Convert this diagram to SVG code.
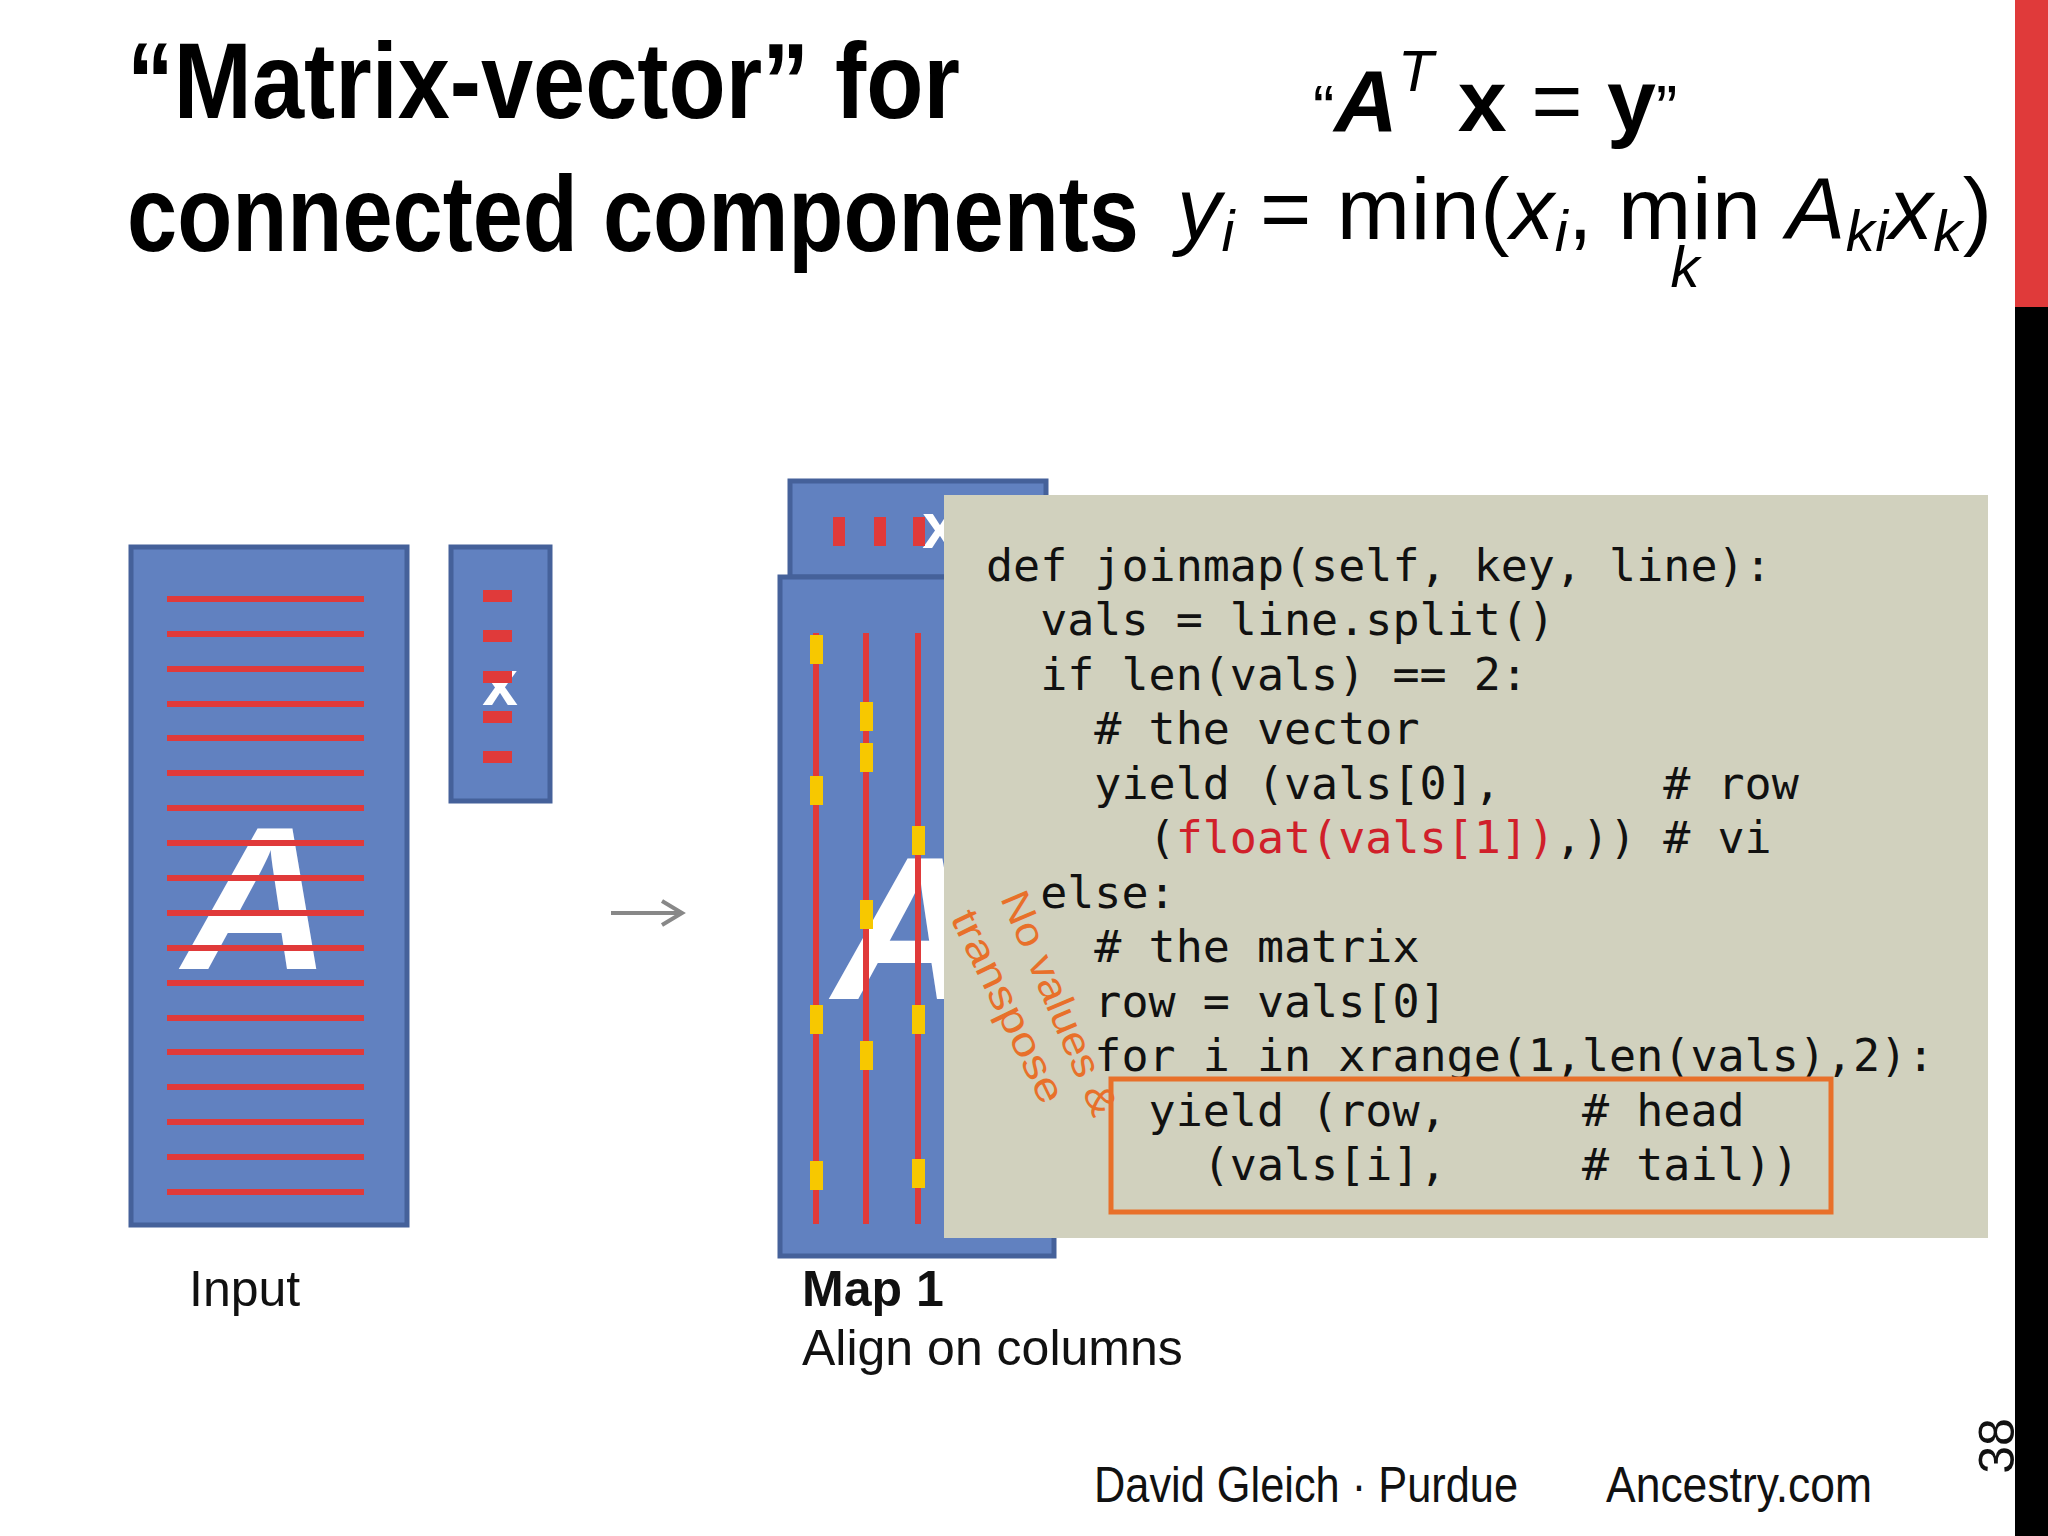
<svg xmlns="http://www.w3.org/2000/svg" width="2048" height="1536" viewBox="0 0 2048 1536">
<style>
.blk{fill:#6181c0;stroke:#45619a;stroke-width:5}
.rl{stroke:#e03a3a;stroke-width:6}
.yl{fill:#f7c800}
.code{font-family:"DejaVu Sans Mono",monospace;font-size:45px;fill:#111}
.lab{font-family:"Liberation Sans",Arial,sans-serif;font-size:50px;fill:#111}
.ttl{font-family:"Liberation Sans",Arial,sans-serif;font-weight:bold;font-size:108px;fill:#000}
.math{font-family:"Liberation Sans",Arial,sans-serif;fill:#000}
.or{font-family:"Liberation Sans",Arial,sans-serif;font-size:40px;fill:#e8702a}
</style>
<rect width="2048" height="1536" fill="#fff"/>
<rect x="2015" y="0" width="33" height="307" fill="#e03a3a"/>
<rect x="2015" y="307" width="33" height="1229" fill="#000"/>
<text transform="translate(2014,1446) rotate(-90)" text-anchor="middle" class="lab" font-size="64" fill="#555">38</text>
<text x="127" y="118" class="ttl" textLength="833" lengthAdjust="spacingAndGlyphs">“Matrix-vector” for</text>
<text x="127" y="251" class="ttl" textLength="1012" lengthAdjust="spacingAndGlyphs">connected components</text>
<text x="1313" y="131" class="math" font-size="88"><tspan font-size="64">“</tspan><tspan font-weight="bold" font-style="italic">A</tspan><tspan font-style="italic" dy="-40" font-size="58">T</tspan><tspan dy="40" font-weight="bold"> x</tspan> = <tspan font-weight="bold">y</tspan><tspan font-size="64">”</tspan></text>
<text x="1177" y="239" class="math" font-size="88" textLength="815"><tspan font-style="italic">y</tspan><tspan font-style="italic" font-size="58" dy="12">i</tspan><tspan dy="-12"> = min(</tspan><tspan font-style="italic">x</tspan><tspan font-style="italic" font-size="58" dy="12">i</tspan><tspan dy="-12">, min </tspan><tspan font-style="italic">A</tspan><tspan font-style="italic" font-size="58" dy="12">ki</tspan><tspan font-style="italic" dy="-12">x</tspan><tspan font-style="italic" font-size="58" dy="12">k</tspan><tspan dy="-12">)</tspan></text>
<text x="1685" y="287" class="math" font-size="58" font-style="italic" text-anchor="middle">k</text>
<g id="input">
<rect class="blk" x="131" y="547" width="276" height="678"/>
<text x="257" y="969" font-family="Liberation Sans,Arial,sans-serif" font-weight="bold" font-style="italic" font-size="205" fill="#fff" text-anchor="middle">A</text>
<g class="rl">
<line x1="167" x2="364" y1="599" y2="599"/><line x1="167" x2="364" y1="634" y2="634"/><line x1="167" x2="364" y1="669" y2="669"/><line x1="167" x2="364" y1="704" y2="704"/><line x1="167" x2="364" y1="738" y2="738"/><line x1="167" x2="364" y1="773" y2="773"/><line x1="167" x2="364" y1="808" y2="808"/><line x1="167" x2="364" y1="843" y2="843"/><line x1="167" x2="364" y1="878" y2="878"/><line x1="167" x2="364" y1="913" y2="913"/><line x1="167" x2="364" y1="948" y2="948"/><line x1="167" x2="364" y1="983" y2="983"/><line x1="167" x2="364" y1="1018" y2="1018"/><line x1="167" x2="364" y1="1052" y2="1052"/><line x1="167" x2="364" y1="1087" y2="1087"/><line x1="167" x2="364" y1="1122" y2="1122"/><line x1="167" x2="364" y1="1157" y2="1157"/><line x1="167" x2="364" y1="1192" y2="1192"/>
</g>
<text x="189" y="1306" class="lab">Input</text>
</g>
<g id="vecx">
<rect class="blk" x="451" y="547" width="99" height="254"/>
<text x="500" y="705" font-family="Liberation Sans,Arial,sans-serif" font-weight="bold" font-size="64" fill="#fff" text-anchor="middle">x</text>
<g fill="#e03a3a"><rect x="483" y="590" width="29" height="12"/><rect x="483" y="630" width="29" height="12"/><rect x="483" y="671" width="29" height="12"/><rect x="483" y="711" width="29" height="12"/><rect x="483" y="751" width="29" height="12"/></g>
</g>
<g id="connectors"><line x1="611" y1="913" x2="680" y2="913" stroke="#888" stroke-width="4"/><path d="M662 901 L682 913 L662 925" fill="none" stroke="#888" stroke-width="4"/></g>
<g id="map1">
<rect class="blk" x="790" y="481" width="256" height="96"/>
<text x="940" y="548" font-family="Liberation Sans,Arial,sans-serif" font-weight="bold" font-size="64" fill="#fff" text-anchor="middle">x</text>
<g fill="#e03a3a"><rect x="833" y="517" width="12" height="29"/><rect x="874" y="517" width="12" height="29"/><rect x="913" y="517" width="12" height="29"/></g>
<rect class="blk" x="780" y="577" width="274" height="679"/>
<text x="833" y="999" font-family="Liberation Sans,Arial,sans-serif" font-weight="bold" font-style="italic" font-size="205" fill="#fff">A</text>
<g class="rl"><line x1="816" x2="816" y1="633" y2="1224"/><line x1="866" x2="866" y1="633" y2="1224"/><line x1="918" x2="918" y1="633" y2="1224"/></g>
<g class="yl"><rect x="810" y="635" width="13" height="29"/><rect x="810" y="776" width="13" height="29"/><rect x="810" y="1005" width="13" height="29"/><rect x="810" y="1161" width="13" height="29"/>
<rect x="860" y="702" width="13" height="29"/><rect x="860" y="743" width="13" height="29"/><rect x="860" y="900" width="13" height="29"/><rect x="860" y="1041" width="13" height="29"/>
<rect x="912" y="826" width="13" height="29"/><rect x="912" y="1005" width="13" height="29"/><rect x="912" y="1159" width="13" height="29"/></g>
<text x="802" y="1306" class="lab" font-weight="bold">Map 1</text>
<text x="802" y="1365" class="lab">Align on columns</text>
</g>
<g id="code">
<rect x="944" y="495" width="1044" height="743" fill="#d1d1be"/>
<text class="code" xml:space="preserve"><tspan x="986" y="581">def joinmap(self, key, line):</tspan><tspan x="986" y="635">  vals = line.split()</tspan><tspan x="986" y="690">  if len(vals) == 2:</tspan><tspan x="986" y="744">    # the vector</tspan><tspan x="986" y="799">    yield (vals[0],      # row</tspan><tspan x="986" y="853">      (<tspan fill="#d0202a">float(vals[1])</tspan>,)) # vi</tspan><tspan x="986" y="908">  else:</tspan><tspan x="986" y="962">    # the matrix</tspan><tspan x="986" y="1017">    row = vals[0]</tspan><tspan x="986" y="1071">    for i in xrange(1,len(vals),2):</tspan><tspan x="986" y="1126">      yield (row,     # head</tspan><tspan x="986" y="1180">        (vals[i],     # tail))</tspan></text>
<rect x="1111" y="1079" width="720" height="133" fill="none" stroke="#e8702a" stroke-width="5"/>
<text transform="translate(1000,898) rotate(67)" class="or" textLength="240" lengthAdjust="spacingAndGlyphs">No values &amp;</text>
<text transform="translate(950,918) rotate(64)" class="or" textLength="210" lengthAdjust="spacingAndGlyphs">transpose</text>
</g>
<text x="1094" y="1502" class="lab" font-size="44" textLength="424" lengthAdjust="spacingAndGlyphs">David Gleich · Purdue</text>
<text x="1606" y="1502" class="lab" font-size="44" textLength="266" lengthAdjust="spacingAndGlyphs">Ancestry.com</text>
</svg>
